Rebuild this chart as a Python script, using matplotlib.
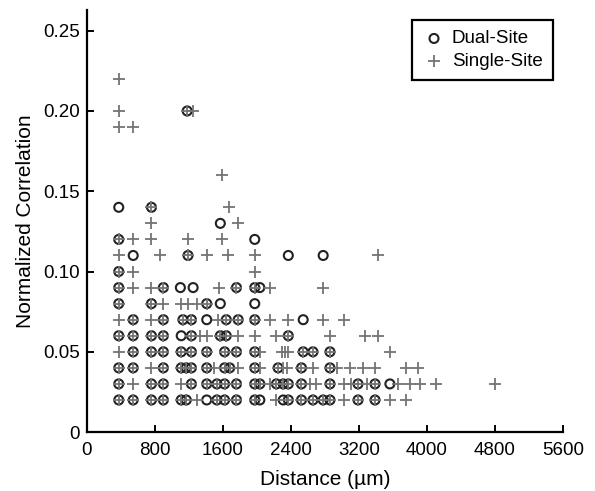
import matplotlib.pyplot as plt

# ====== data: x positions (um) of each marker, grouped by correlation level ======
dual_site = {
    0.20: [1180],
    0.14: [375, 760],
    0.13: [1570],
    0.12: [375, 1975],
    0.11: [545, 1190, 2370, 2780],
    0.10: [375],
    0.09: [375, 900, 1100, 1250, 1760, 1975, 2035],
    0.08: [375, 760, 1410, 1570, 1975],
    0.07: [545, 900, 1130, 1230, 1410, 1640, 1780, 1975, 2545],
    0.06: [375, 545, 760, 900, 1110, 1230, 1570, 1640, 2370],
    0.05: [545, 760, 900, 1110, 1230, 1410, 1620, 1760, 1975, 2545, 2660, 2860],
    0.04: [375, 545, 900, 1110, 1170, 1230, 1410, 1620, 1680, 1975, 2250, 2525, 2860],
    0.03: [375, 760, 900, 1230, 1410, 1530, 1620, 1760, 1975, 2035, 2230, 2310,
           2370, 2525, 2860, 3190, 3390, 3565],
    0.02: [375, 545, 760, 900, 1110, 1170, 1410, 1530, 1620, 1760, 1975, 2035,
           2310, 2370, 2525, 2660, 2780, 2860, 3190, 3390],
}

single_site = {
    0.22: [375],
    0.20: [375, 1180, 1250],
    0.19: [375, 545],
    0.16: [1585],
    0.14: [760, 1675],
    0.13: [760, 1780],
    0.12: [375, 545, 760, 1190, 1585],
    0.11: [375, 860, 1190, 1410, 1660, 1975, 3430],
    0.10: [375, 545, 1975],
    0.09: [375, 545, 760, 900, 1560, 1760, 1975, 2150, 2780],
    0.08: [375, 760, 900, 1110, 1190, 1290, 1410],
    0.07: [375, 545, 760, 900, 1130, 1230, 1545, 1640, 1780, 1975, 2150, 2370,
           2780, 3020],
    0.06: [375, 545, 760, 900, 1230, 1330, 1410, 1570, 1640, 1780, 1975, 2230,
           2370, 2860, 3270, 3430],
    0.05: [375, 545, 760, 900, 1110, 1230, 1410, 1620, 1760, 1975, 2035, 2290,
           2330, 2370, 2545, 2660, 2860, 3565],
    0.04: [375, 545, 760, 900, 1110, 1170, 1230, 1410, 1500, 1620, 1680, 1780,
           1975, 2035, 2250, 2310, 2350, 2525, 2660, 2860, 2940, 3090, 3250,
           3390, 3760, 3900],
    0.03: [375, 545, 760, 900, 1110, 1230, 1410, 1530, 1620, 1760, 1975, 2035,
           2150, 2230, 2310, 2370, 2525, 2620, 2700, 2860, 3030, 3110, 3190,
           3290, 3390, 3660, 3800, 3920, 4110, 4800],
    0.02: [375, 545, 760, 900, 1110, 1170, 1290, 1530, 1620, 1760, 1975, 2230,
           2370, 2525, 2660, 2780, 2860, 3020, 3190, 3390, 3565, 3760],
}

x_ticks = [0, 800, 1600, 2400, 3200, 4000, 4800, 5600]
y_ticks = [0, 0.05, 0.10, 0.15, 0.20, 0.25]
y_tick_labels = ["0", "0.05", "0.10", "0.15", "0.20", "0.25"]


def flatten(levels):
    xs, ys = [], []
    for y, row in levels.items():
        xs += row
        ys += [y] * len(row)
    return xs, ys


dual_x, dual_y = flatten(dual_site)
single_x, single_y = flatten(single_site)

# ====== plot ======
plt.rcParams["font.family"] = ["Liberation Sans", "DejaVu Sans"]

fig = plt.figure(figsize=(5.95, 4.91), dpi=100)
ax = fig.add_axes([0.146, 0.12, 0.800, 0.86])

ax.scatter(dual_x, dual_y, s=42, facecolors="none", edgecolors="#222222",
           linewidths=1.5, label="Dual-Site", zorder=2)
ax.scatter(single_x, single_y, s=80, marker="+", color="#747474",
           linewidths=1.3, label="Single-Site", zorder=3)

ax.set_xlim(0, 5600)
ax.set_ylim(0, 0.263)
ax.set_xticks(x_ticks)
ax.set_yticks(y_ticks)
ax.set_yticklabels(y_tick_labels)

for side in ["top", "right"]:
    ax.spines[side].set_visible(False)
for side in ["left", "bottom"]:
    ax.spines[side].set_linewidth(1.6)

ax.tick_params(direction="in", length=5, width=1.4, labelsize=13.5, pad=5)
ax.tick_params(axis="x", pad=7)

ax.set_xlabel("Distance (\u00b5m)", fontsize=15, labelpad=8)
ax.set_ylabel("Normalized Correlation", fontsize=15, labelpad=6)

leg = ax.legend(loc="upper right", bbox_to_anchor=(0.979, 0.976), borderaxespad=0,
                fontsize=13.5, frameon=True, fancybox=False, framealpha=1,
                edgecolor="black", handletextpad=0.35, handlelength=1.2,
                borderpad=0.55, labelspacing=0.3)
leg.get_frame().set_linewidth(1.6)

plt.savefig("out.png", dpi=100)
